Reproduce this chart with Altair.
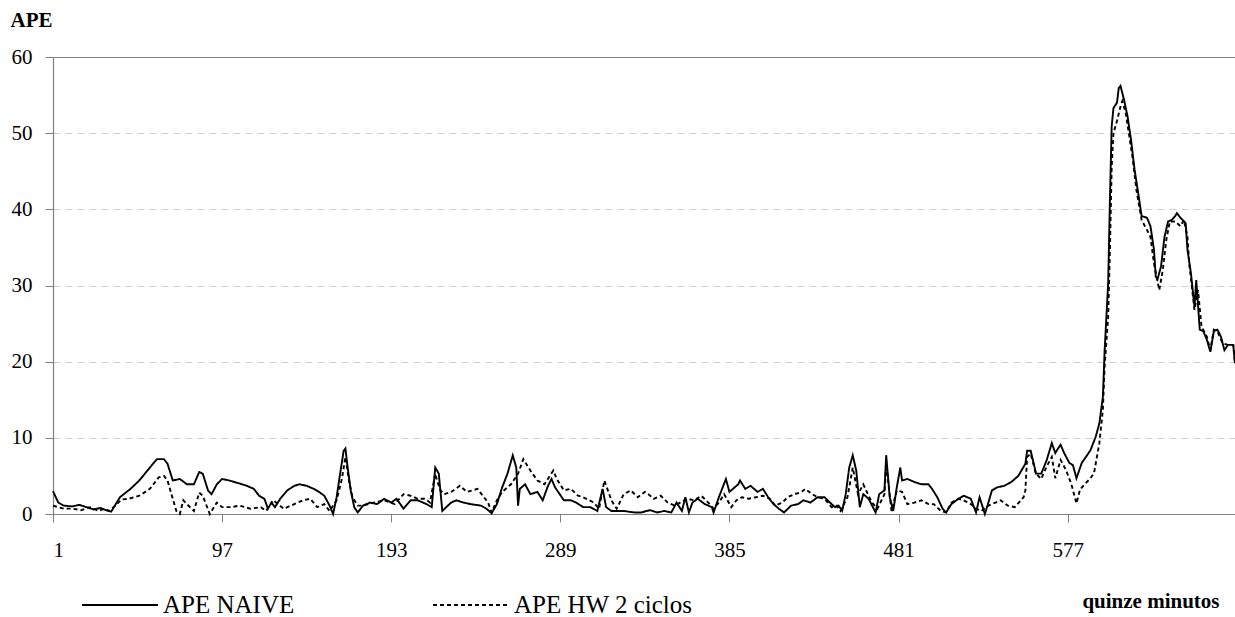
import altair as alt
import pandas as pd

series_names = ["APE NAIVE", "APE HW 2 ciclos"]
x_ticks = [1, 97, 193, 289, 385, 481, 577]
y_ticks = [0, 10, 20, 30, 40, 50, 60]

naive_x = [1, 4, 7, 12, 16, 20, 24, 28, 31, 34, 39, 45, 50, 56, 60, 64, 66, 69, 73, 77,
           81, 84, 86, 89, 91, 94, 97, 101, 107, 111, 115, 118, 121, 123, 125, 127, 130, 134, 138, 141,
           145, 149, 152, 155, 158, 160, 162, 164, 166, 167, 168, 170, 172, 174, 177, 181, 185, 189, 193, 196,
           200, 204, 208, 213, 216, 218, 220, 222, 227, 230, 234, 238, 244, 247, 250, 253, 256, 259, 262, 264,
           265, 266, 269, 272, 276, 279, 282, 284, 286, 291, 295, 298, 302, 306, 310, 313, 315, 318, 321, 325,
           331, 335, 338, 340, 344, 348, 352, 355, 358, 360, 362, 364, 367, 371, 375, 376, 379, 383, 385, 387,
           390, 391, 394, 397, 401, 404, 407, 410, 413, 416, 420, 424, 427, 431, 435, 439, 442, 445, 447, 449,
           451, 453, 455, 457, 459, 461, 464, 466, 468, 470, 473, 474, 476, 478, 480, 482, 483, 486, 490, 494,
           498, 500, 503, 506, 508, 511, 515, 518, 522, 525, 527, 530, 532, 534, 537, 541, 545, 549, 553, 554,
           556, 558, 559, 562, 565, 568, 570, 571, 573, 575, 578, 580, 582, 585, 588, 590, 593, 595, 597, 598,
           600, 601, 602, 603, 605, 606, 607, 609, 611, 613, 615, 617, 619, 622, 624, 626, 627, 628, 630, 632,
           634, 636, 638, 639, 641, 644, 645, 647, 649, 650, 652, 654, 656, 658, 660, 662, 664, 666, 668, 671,
           672]
naive_y = [3.0, 1.5, 1.1, 1.0, 1.2, 0.9, 0.6, 0.8, 0.5, 0.3, 2.2, 3.3, 4.4, 6.1, 7.2, 7.2, 6.6, 4.4, 4.6, 3.9,
           3.9, 5.5, 5.3, 3.1, 2.6, 3.9, 4.6, 4.4, 4.0, 3.7, 3.3, 2.4, 2.0, 0.7, 1.5, 0.9, 2.0, 3.1, 3.7, 3.9,
           3.7, 3.3, 2.9, 2.4, 1.1, 0.0, 2.2, 5.3, 8.3, 8.6, 6.6, 3.1, 0.9, 0.2, 1.1, 1.5, 1.3, 2.0, 1.5, 2.0,
           0.7, 1.8, 1.8, 1.3, 0.9, 6.1, 5.3, 0.4, 1.5, 1.8, 1.5, 1.3, 1.1, 0.7, 0.1, 1.3, 3.5, 5.3, 7.7, 6.1,
           1.1, 3.3, 3.9, 2.6, 2.9, 1.8, 3.7, 4.6, 3.5, 1.8, 1.8, 1.5, 0.9, 0.9, 0.4, 3.3, 0.9, 0.4, 0.4, 0.4,
           0.2, 0.2, 0.4, 0.5, 0.2, 0.4, 0.2, 1.5, 0.4, 2.2, 0.2, 1.5, 2.0, 1.3, 0.9, 0.2, 2.2, 4.6, 2.9, 3.3,
           3.9, 4.4, 3.3, 3.7, 2.9, 3.3, 2.2, 1.3, 0.7, 0.2, 1.1, 1.3, 1.8, 1.5, 2.2, 2.2, 1.5, 0.9, 1.1, 0.4,
           2.6, 6.1, 7.7, 5.7, 0.9, 2.6, 2.0, 1.1, 0.2, 2.6, 3.1, 7.7, 2.2, 0.4, 3.5, 6.1, 4.4, 4.6, 4.2, 3.9,
           3.9, 3.3, 2.2, 0.7, 0.2, 1.3, 2.0, 2.4, 2.0, 0.2, 2.2, 0.0, 1.5, 3.1, 3.5, 3.7, 4.2, 5.0, 6.6, 8.3,
           8.3, 6.4, 5.3, 5.3, 7.0, 9.3, 8.0, 8.4, 9.1, 8.0, 6.7, 6.4, 4.7, 6.7, 7.7, 8.4, 10.2, 11.9, 15.4, 21.5,
           30.3, 41.3, 50.9, 53.3, 54.0, 55.9, 56.2, 54.4, 52.2, 49.1, 45.2, 42.2, 39.1, 38.9, 37.8, 34.7, 31.2, 30.8, 32.5, 36.4,
           38.4, 38.6, 39.1, 39.5, 38.9, 38.2, 34.7, 31.6, 27.2, 30.7, 24.2, 24.0, 22.9, 21.3, 24.0, 24.2, 23.3, 21.5, 22.2, 22.2,
           19.8]

hw_x = [1, 7, 12, 17, 22, 27, 30, 33, 40, 44, 50, 56, 61, 64, 66, 68, 71, 73, 75, 77,
        81, 84, 86, 90, 94, 97, 102, 107, 113, 119, 122, 126, 132, 136, 140, 143, 147, 151, 155, 158,
        162, 165, 167, 169, 171, 174, 177, 183, 189, 195, 200, 204, 208, 212, 215, 218, 219, 221, 223, 227,
        232, 236, 242, 248, 250, 253, 256, 261, 265, 268, 272, 276, 280, 285, 287, 291, 295, 299, 302, 308,
        311, 314, 318, 321, 325, 329, 333, 337, 339, 342, 346, 350, 354, 357, 361, 365, 369, 373, 376, 379,
        382, 386, 389, 392, 396, 400, 404, 408, 411, 415, 418, 422, 426, 428, 432, 435, 439, 443, 446, 448,
        452, 455, 458, 461, 464, 466, 469, 473, 474, 477, 480, 483, 486, 490, 494, 498, 501, 505, 508, 511,
        515, 518, 522, 525, 528, 532, 536, 539, 543, 547, 552, 553, 554, 556, 559, 562, 565, 568, 570, 573,
        576, 579, 582, 584, 587, 590, 592, 595, 597, 598, 600, 601, 602, 603, 605, 607, 608, 610, 612, 614,
        616, 619, 622, 624, 626, 629, 631, 633, 635, 638, 641, 643, 645, 646, 649, 651, 653, 656, 658, 660,
        662, 665, 668, 671, 672]
hw_y = [1.1, 0.7, 0.7, 0.5, 0.9, 0.4, 0.7, 0.4, 1.9, 2.0, 2.4, 3.3, 4.8, 5.0, 4.4, 2.8, 0.4, 0.0, 1.8, 1.3,
        0.4, 2.8, 2.4, 0.0, 1.5, 0.9, 0.9, 1.1, 0.7, 0.9, 0.4, 1.8, 0.7, 1.1, 1.5, 1.8, 2.0, 0.9, 1.3, 0.4,
        1.8, 4.6, 7.5, 4.4, 2.2, 1.1, 1.1, 1.5, 1.8, 1.3, 2.6, 2.4, 2.0, 2.0, 1.5, 5.3, 4.4, 3.1, 2.6, 2.9,
        3.7, 2.9, 3.3, 1.5, 0.2, 1.8, 2.9, 3.9, 5.3, 7.2, 5.7, 4.4, 3.9, 5.7, 4.6, 3.1, 3.3, 2.4, 2.2, 1.5,
        0.7, 4.4, 1.8, 0.7, 2.6, 3.1, 2.2, 2.9, 2.6, 2.0, 2.4, 1.5, 1.1, 1.5, 2.0, 1.8, 2.4, 1.5, 0.7, 1.5,
        2.6, 0.9, 1.8, 2.2, 2.0, 2.2, 2.4, 2.0, 1.1, 1.5, 2.2, 2.6, 2.9, 3.3, 2.6, 2.2, 2.0, 0.9, 1.1, 0.4,
        2.2, 6.1, 2.6, 3.9, 2.4, 1.5, 0.7, 2.6, 6.6, 0.4, 3.1, 2.9, 1.3, 1.5, 1.8, 1.3, 1.3, 0.4, 0.2, 1.5,
        2.0, 1.8, 1.3, 0.7, 0.4, 1.1, 1.5, 1.8, 1.1, 0.9, 2.2, 3.1, 7.5, 7.9, 5.3, 4.6, 6.2, 7.5, 4.7, 7.1,
        5.8, 4.0, 1.4, 3.2, 4.0, 4.7, 5.4, 9.3, 13.7, 19.4, 25.9, 34.7, 45.6, 50.0, 51.6, 53.5, 54.2, 52.6, 49.6, 46.5,
        42.6, 38.6, 37.3, 36.4, 32.9, 29.4, 32.0, 36.0, 38.4, 38.4, 37.8, 38.6, 36.4, 32.9, 26.8, 29.4, 24.6, 23.3, 21.5, 24.2,
        24.0, 22.4, 22.2, 22.2, 19.8]

df = pd.concat([
    pd.DataFrame({"t": naive_x, "ape": naive_y, "serie": series_names[0]}),
    pd.DataFrame({"t": hw_x, "ape": hw_y, "serie": series_names[1]}),
], ignore_index=True)

FONT = "Liberation Serif"

grid_color = {"condition": {"test": "datum.value <= 0 || datum.value >= 60", "value": "transparent"},
              "value": "#cfcfcf"}

chart = alt.Chart(df).mark_line(color="black", strokeWidth=1.9).encode(
    x=alt.X("t:Q",
            scale=alt.Scale(domain=[1, 672], nice=False, zero=False),
            axis=alt.Axis(values=x_ticks, format="d", title="quinze minutos", grid=False,
                          tickSize=8, labelPadding=17, labelFontSize=21,
                          titleX=1166, titleY=93, titleAlign="right", titleBaseline="alphabetic",
                          titleFontWeight="bold", titleFontSize=21)),
    y=alt.Y("ape:Q",
            scale=alt.Scale(domain=[0, 60], nice=False),
            axis=alt.Axis(values=y_ticks, title="APE", titleAngle=0, titleX=-43, titleY=-31,
                          titleAlign="left", titleBaseline="alphabetic", titleFontWeight="bold",
                          titleFontSize=21, tickSize=8, labelPadding=13, labelFontSize=21,
                          grid=True, gridDash=[7, 5], gridColor=grid_color, gridWidth=1)),
    strokeDash=alt.StrokeDash("serie:N",
                              scale=alt.Scale(domain=series_names, range=[[1, 0], [4, 3]]),
                              legend=alt.Legend(orient="none", legendX=28, legendY=509,
                                                direction="horizontal", title=None,
                                                symbolType="stroke", symbolSize=5776,
                                                symbolStrokeWidth=1.9, symbolStrokeColor="black",
                                                labelFont=FONT, labelFontSize=25, labelColor="black",
                                                labelOffset=4, columnPadding=134, labelLimit=400)),
    order=alt.Order("t:Q"),
).properties(
    width=1182,
    height=457,
    padding={"left": 53, "top": 57, "right": 0, "bottom": 103},
    autosize=alt.AutoSizeParams(type="none"),
).configure(
    font=FONT,
    background="white",
).configure_view(
    stroke="#808080", strokeWidth=1
).configure_axis(
    labelFont=FONT, titleFont=FONT, labelColor="black", titleColor="black",
    domainColor="#808080", tickColor="#808080", domainWidth=1.2,
)

chart.save("out.html", embed_options={"renderer": "svg", "actions": False})
